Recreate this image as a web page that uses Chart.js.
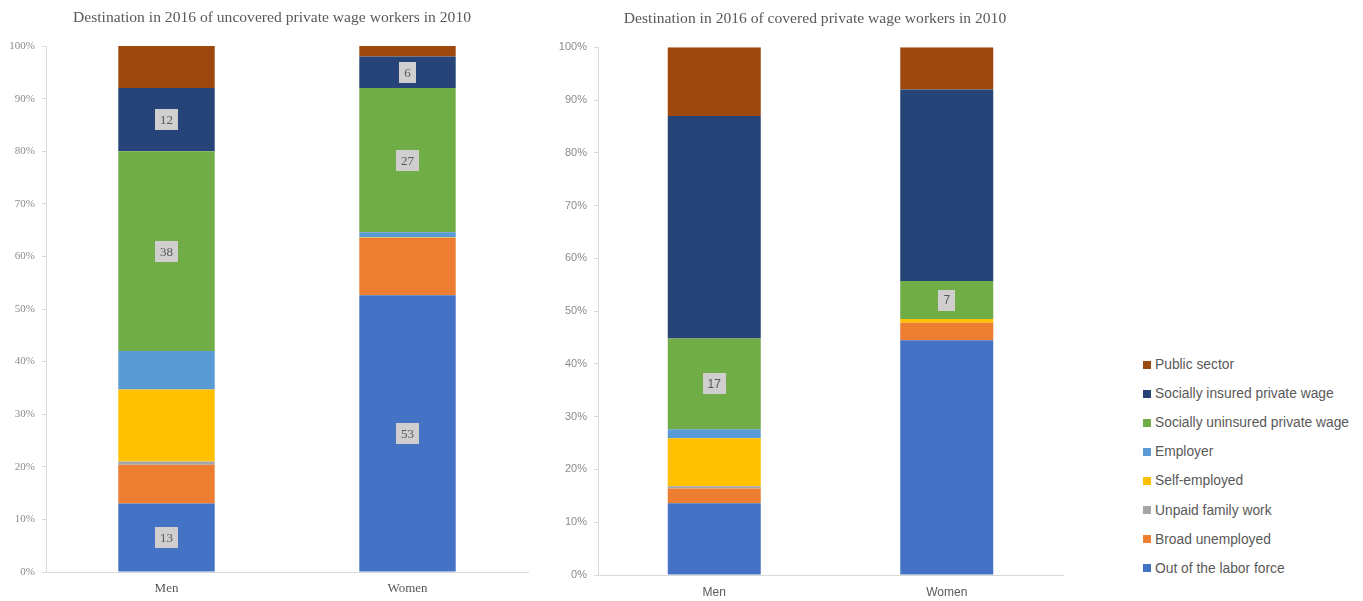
<!DOCTYPE html>
<html>
<head>
<meta charset="utf-8">
<script src="https://cdn.jsdelivr.net/npm/chart.js@4/dist/chart.umd.min.js"></script>
<style>
  html, body { margin: 0; padding: 0; background: #ffffff; }
  #wrap { position: relative; width: 1363px; height: 601px; overflow: hidden; }
  #c1 { position: absolute; left: 0; top: 0; }
  #c2 { position: absolute; left: 540px; top: 0; }
  #legend { position: absolute; left: 1143px; top: 350px; font-family: "Liberation Sans", Arial, sans-serif; font-size: 13.8px; color: #595959; }
  #legend .row { height: 29.1px; display: flex; align-items: center; white-space: nowrap; }
  #legend .sw { width: 8px; height: 8px; margin-right: 4px; flex: none; }
</style>
</head>
<body>
<div id="wrap">
  <canvas id="c1" width="544" height="601"></canvas>
  <canvas id="c2" width="550" height="601"></canvas>
  <div id="legend"></div>
</div>
<script>
// Categories and destination groups (bottom of the stack first)
const categories = ['Men', 'Women'];
const seriesNames = [
  'Out of the labor force',
  'Broad unemployed',
  'Unpaid family work',
  'Self-employed',
  'Employer',
  'Socially uninsured private wage',
  'Socially insured private wage',
  'Public sector'
];
const seriesColors = ['#4472C4', '#ED7D31', '#A5A5A5', '#FFC000', '#5B9BD5', '#70AD47', '#264478', '#9E480E'];

// Shares (%) in 2016, by group, for workers uncovered in 2010
const uncoveredMen   = [13, 7.4, 0.6, 13.7, 7.3, 38, 12, 8];
const uncoveredWomen = [52.6, 10.9, 0, 0.1, 1.0, 27.4, 6.0, 2.0];
// Shares (%) in 2016, by group, for workers covered in 2010
const coveredMen     = [13.6, 2.8, 0.4, 9.1, 1.7, 17.2, 42.2, 13.0];
const coveredWomen   = [44.5, 3.3, 0, 0.7, 0, 7.2, 36.3, 8.0];

// Groups whose values are printed on the bars
const labeledUncovered = ['Out of the labor force', 'Socially uninsured private wage', 'Socially insured private wage'];
const labeledCovered   = ['Socially uninsured private wage'];

const yTickValues = [0, 10, 20, 30, 40, 50, 60, 70, 80, 90, 100];

function buildDatasets(men, women) {
  return seriesNames.map((name, i) => ({
    label: name,
    data: [men[i], women[i]],
    backgroundColor: seriesColors[i],
    borderWidth: 0,
    categoryPercentage: 1.0,
    barPercentage: 0.4
  }));
}

// Grey value boxes drawn at the middle of selected segments
const valueBoxes = {
  id: 'valueBoxes',
  afterDatasetsDraw(chart, args, opts) {
    const ctx = chart.ctx;
    ctx.save();
    ctx.font = opts.font;
    ctx.textAlign = 'center';
    ctx.textBaseline = 'middle';
    chart.data.datasets.forEach((ds, di) => {
      if (!opts.series.includes(ds.label)) return;
      const meta = chart.getDatasetMeta(di);
      meta.data.forEach((bar, j) => {
        const v = ds.data[j];
        if (!v) return;
        const txt = String(Math.round(v));
        const cy = (bar.y + bar.base) / 2;
        const w = ctx.measureText(txt).width + 10;
        const h = 21;
        ctx.fillStyle = '#D0CECE';
        ctx.fillRect(Math.round(bar.x - w / 2), Math.round(cy - h / 2), Math.round(w), h);
        ctx.fillStyle = '#595959';
        ctx.fillText(txt, bar.x, cy + 1);
      });
    });
    ctx.restore();
  }
};

function makeChart(canvasId, title, men, women, cfg) {
  return new Chart(document.getElementById(canvasId), {
    type: 'bar',
    data: { labels: categories, datasets: buildDatasets(men, women) },
    plugins: [valueBoxes],
    options: {
      responsive: false,
      animation: false,
      layout: { padding: 0 },
      plugins: {
        legend: { display: false },
        tooltip: { enabled: false },
        title: {
          display: true,
          text: title,
          color: '#595959',
          font: { family: '"Liberation Serif", "DejaVu Serif", serif', size: 15.6, weight: 'normal' },
          padding: cfg.titlePad
        },
        valueBoxes: { series: cfg.labeled, font: cfg.boxFont }
      },
      scales: {
        x: {
          stacked: true,
          offset: true,
          grid: { drawOnChartArea: false, drawTicks: false },
          border: { display: true, color: '#D9D9D9', width: 1 },
          ticks: { color: '#595959', font: cfg.xFont, padding: cfg.xPad },
          afterFit: s => { s.height = cfg.xHeight; }
        },
        y: {
          stacked: true,
          min: 0,
          max: 100,
          afterBuildTicks: s => { s.ticks = yTickValues.map(v => ({ value: v })); },
          grid: { drawOnChartArea: false, drawTicks: true, tickLength: 4, color: '#D9D9D9' },
          border: { display: true, color: '#D9D9D9', width: 1 },
          ticks: { color: '#8C8C8C', font: cfg.yFont, padding: 7, callback: v => v + '%' },
          afterFit: s => { s.width = cfg.yWidth; }
        },
        // empty margin on the right of the plot
        gap: {
          position: 'right',
          type: 'linear',
          min: 0,
          max: 100,
          grid: { display: false },
          border: { display: false },
          ticks: { display: false },
          afterFit: s => { s.width = cfg.rightGap; }
        }
      }
    }
  });
}

const serif = '"Liberation Serif", "DejaVu Serif", serif';
const sans = '"Liberation Sans", Arial, sans-serif';

makeChart('c1', 'Destination in 2016 of uncovered private wage workers in 2010', uncoveredMen, uncoveredWomen, {
  rightGap: 16,
  titlePad: { top: 9, bottom: 18.3 },
  xFont: { family: serif, size: 13 },
  yFont: { family: serif, size: 11 },
  xPad: 9,
  xHeight: 29,
  yWidth: 46,
  labeled: labeledUncovered,
  boxFont: '13px ' + serif
});

const coveredChart = makeChart('c2', 'Destination in 2016 of covered private wage workers in 2010', coveredMen, coveredWomen, {
  rightGap: 27,
  titlePad: { top: 10, bottom: 18.6 },
  xFont: { family: sans, size: 12 },
  yFont: { family: sans, size: 11 },
  xPad: 10,
  xHeight: 26,
  yWidth: 58,
  labeled: labeledCovered,
  boxFont: '12px ' + sans
});

// Shared legend, top entry is the top of the stack
const legendEl = document.getElementById('legend');
coveredChart.data.datasets.slice().reverse().forEach(ds => {
  const row = document.createElement('div');
  row.className = 'row';
  const sw = document.createElement('span');
  sw.className = 'sw';
  sw.style.background = ds.backgroundColor;
  const tx = document.createElement('span');
  tx.textContent = ds.label;
  row.appendChild(sw);
  row.appendChild(tx);
  legendEl.appendChild(row);
});
</script>
</body>
</html>
